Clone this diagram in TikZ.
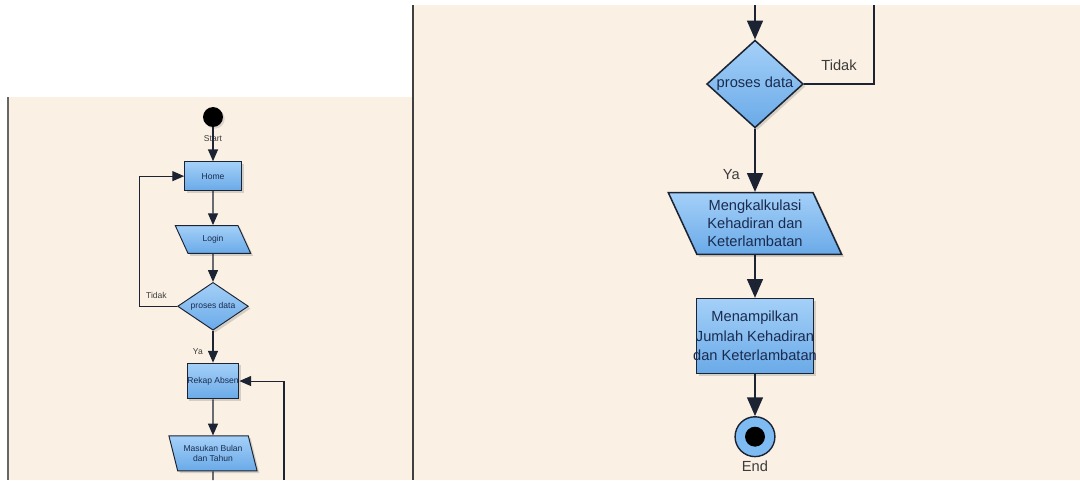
\documentclass[tikz,border=0pt]{standalone}
\usepackage{fontspec}
\setmainfont{Liberation Sans}
\usetikzlibrary{shapes,shapes.geometric,positioning,arrows.meta,shadows}
\definecolor{bgbeige}{HTML}{FAF0E3}
\definecolor{boxblue}{HTML}{7FBBF3}
\definecolor{boxlight}{HTML}{A4D0F8}
\definecolor{boxdark}{HTML}{6AAAE8}
\definecolor{edgedark}{HTML}{1C2433}
\definecolor{txtnavy}{HTML}{1B2B4E}
\definecolor{lblgray}{HTML}{3C3C3C}

\begin{document}
\begin{tikzpicture}[x=0.3mm, y=-0.3mm,
    sm/.style={font=\fontsize{7.3}{8.5}\selectfont, line width=0.8pt},
    lg/.style={font=\fontsize{12.5}{15.3}\selectfont, line width=1.3pt},
    box/.style={rectangle, draw=edgedark, top color=boxlight, bottom color=boxdark,
      text=txtnavy, align=center,
      drop shadow={shadow xshift=2pt, shadow yshift=-2pt, opacity=.3}},
    para/.style={box, trapezium, trapezium left angle=115, trapezium right angle=65,
      trapezium stretches=true},
    dia/.style={box, diamond, inner sep=0pt},
    lbl/.style={text=lblgray},
    arrS/.style={draw=edgedark, line width=0.9pt, -{Triangle[length=10pt, width=8.5pt]}},
    arrL/.style={draw=edgedark, line width=1.5pt, -{Triangle[length=16pt, width=13.5pt]}},
    startdot/.style={circle, fill=black, minimum size=17pt, inner sep=0pt,
      drop shadow={shadow xshift=1.5pt, shadow yshift=-1.5pt, opacity=.25}},
    enddot/.style={circle, draw=edgedark, line width=1.2pt, fill=boxblue,
      minimum size=34pt, inner sep=0pt,
      path picture={\fill[black] (path picture bounding box.center) circle[radius=8.5pt];}}]
    \useasboundingbox (0,0) rectangle (1080,480);
    \fill[bgbeige] (8,97) rectangle (413,480);
    \fill[bgbeige] (413,5) rectangle (1080,480);
    \draw[line width=1.6pt, black!60] (8,97) -- (8,480);
    \draw[line width=1.6pt, black!75] (413,5) -- (413,480);

    \node[startdot, label={[lbl, sm, label distance=3pt]below:Start}] (start) at (213,117) {};
    \node[box, sm, minimum width=48.5pt, minimum height=24.7pt, below=10.2mm of start] (home) {Home};
    \node[para, sm, minimum width=64.6pt, minimum height=23.8pt, below=10.2mm of home] (login) {Login};
    \node[dia, sm, minimum width=60.4pt, minimum height=40.8pt, below=8.4mm of login,
      label={[sm, text=txtnavy]center:proses data}] (cek1) {};
    \node[box, sm, inner xsep=0pt, minimum width=44.2pt, minimum height=30.6pt, below=9.6mm of cek1] (rekap) {Rekap Absen};
    \node[para, sm, trapezium left angle=109, trapezium right angle=71,
      minimum width=75.6pt, minimum height=29.8pt, below=10.8mm of rekap] (masukan) {Masukan Bulan\\dan Tahun};
    \coordinate (lbot) at (masukan.south |- 0,480);
    \coordinate (lret) at (284,480);

    \draw[arrS] (start) -- (home);
    \draw[arrS] (home) -- (login);
    \draw[arrS] (login) -- (cek1);
    \draw[arrS] (cek1.west) -- node[lbl, sm, above=2.5pt, xshift=-1.5pt] {Tidak} ++(-38,0) |- (home.west);
    \draw[arrS] (cek1) -- node[lbl, sm, left=5pt, pos=.65] {Ya} (rekap);
    \draw[arrS] (rekap) -- (masukan);
    \draw[draw=edgedark, line width=0.9pt] (masukan) -- (lbot);
    \draw[arrS] (lret) |- (rekap.east);

    \node[dia, lg, minimum width=82.4pt, minimum height=74.8pt,
      label={[lg, text=txtnavy]center:proses data}] (cek2) at (755,84) {};
    \node[para, lg, minimum width=148pt, minimum height=52.7pt, below=19mm of cek2] (hitung) {Mengkalkulasi\\Kehadiran dan\\Keterlambatan};
    \node[box, lg, font=\fontsize{12.5}{16.5}\selectfont, inner xsep=-2.8pt,
      minimum height=63.75pt, below=12.8mm of hitung] (tampil) {Menampilkan\\Jumlah Kehadiran\\dan Keterlambatan};
    \node[enddot, below=12.6mm of tampil, label={[lbl, lg, label distance=-1pt]below:End}] (end) {};
    \coordinate (rtop) at (755,5);
    \coordinate (rloop) at (874,5);

    \draw[arrL] (rtop) -- (cek2);
    \draw[draw=edgedark, line width=1.5pt] (cek2.east) -- node[lbl, lg, above=7pt] {Tidak} (cek2.east -| rloop) -- (rloop);
    \draw[arrL] (cek2) -- node[lbl, lg, left=9pt, pos=.72] {Ya} (hitung);
    \draw[arrL] (hitung) -- (tampil);
    \draw[arrL] (tampil) -- (end);
\end{tikzpicture}
\end{document}
